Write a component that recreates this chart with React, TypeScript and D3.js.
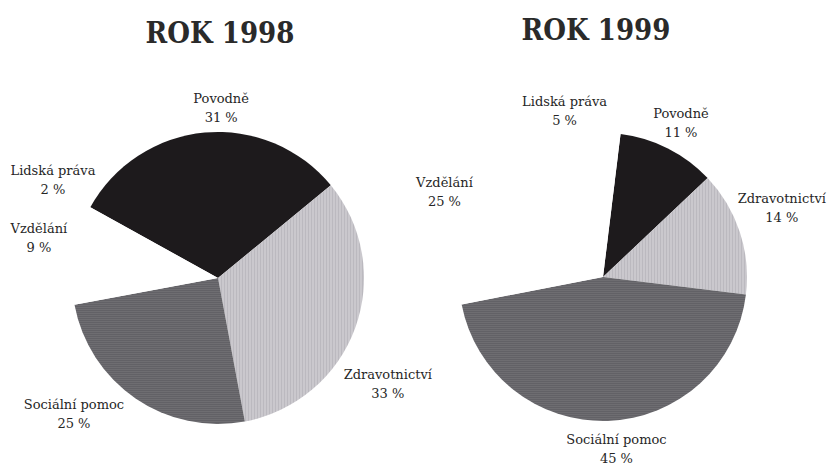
import React from 'react';
import * as d3 from 'd3';

// slice order goes clockwise
const categories = ['Povodně', 'Zdravotnictví', 'Sociální pomoc', 'Vzdělání', 'Lidská práva'];
const values1998 = [31, 33, 25, 9, 2];
const values1999 = [11, 14, 45, 25, 5];
const years = ['ROK 1998', 'ROK 1999'];

const fills = ['#1d1a1c', 'url(#vstripe)', 'url(#hstripe)', '#ffffff', '#ffffff'];

const width = 830;
const height = 466;

// layout of each pie: centre, radius, rotation and little label nudges
const pies = [
  {
    cx: 218, cy: 278, r: 146, start: -61, titleX: 220, titleY: 43,
    nudge: [[20, 10], [-5, 37], [-39, -22], [6, -27], [3, -23]],
  },
  {
    cx: 603, cy: 277, r: 144, start: 7, titleX: 596, titleY: 40,
    nudge: [[-5, 5], [4, -17], [7, -17], [-6, 13], [-32, 13]],
  },
];

function Pie({ values, title, cfg }) {
  const s = (cfg.start * Math.PI) / 180;
  const pie = d3.pie<number>().sort(null).startAngle(s).endAngle(s + 2 * Math.PI);
  const arcs = pie(values);
  const arc = d3.arc<d3.PieArcDatum<number>>().innerRadius(0).outerRadius(cfg.r);
  const R = cfg.r + 40;

  return (
    <g>
      <text
        x={cfg.titleX}
        y={cfg.titleY}
        textAnchor="middle"
        fontFamily="'DejaVu Serif Condensed', 'DejaVu Serif', serif"
        fontStretch="condensed"
        fontWeight="bold"
        fontSize={29}
        fill="#2a2a2a"
      >
        {title}
      </text>
      <g transform={`translate(${cfg.cx},${cfg.cy})`}>
        {arcs.map((a, i) => (
          <path key={i} d={arc(a) || ''} fill={fills[i]} />
        ))}
      </g>
      {arcs.map((a, i) => {
        const mid = (a.startAngle + a.endAngle) / 2;
        const x = cfg.cx + R * Math.sin(mid) + cfg.nudge[i][0];
        const y = cfg.cy - R * Math.cos(mid) + cfg.nudge[i][1];
        return (
          <text
            key={i}
            x={x}
            y={y}
            textAnchor="middle"
            fontFamily="'DejaVu Serif', serif"
            fontSize={13}
            fill="#262626"
          >
            <tspan x={x} y={y}>{categories[i]}</tspan>
            <tspan x={x} y={y + 19}>{values[i] + ' %'}</tspan>
          </text>
        );
      })}
    </g>
  );
}

export default function App() {
  return (
    <svg
      width={width}
      height={height}
      style={{ position: 'absolute', left: 0, top: 0, background: '#fff' }}
    >
      <defs>
        <pattern id="vstripe" width="3" height="4" patternUnits="userSpaceOnUse">
          <rect width="3" height="4" fill="#cac8cd" />
          <rect width="1" height="4" fill="#bbb9bf" />
        </pattern>
        <pattern id="hstripe" width="4" height="2" patternUnits="userSpaceOnUse">
          <rect width="4" height="2" fill="#6e6d71" />
          <rect width="4" height="1" fill="#626166" />
        </pattern>
      </defs>
      <Pie values={values1998} title={years[0]} cfg={pies[0]} />
      <Pie values={values1999} title={years[1]} cfg={pies[1]} />
    </svg>
  );
}
